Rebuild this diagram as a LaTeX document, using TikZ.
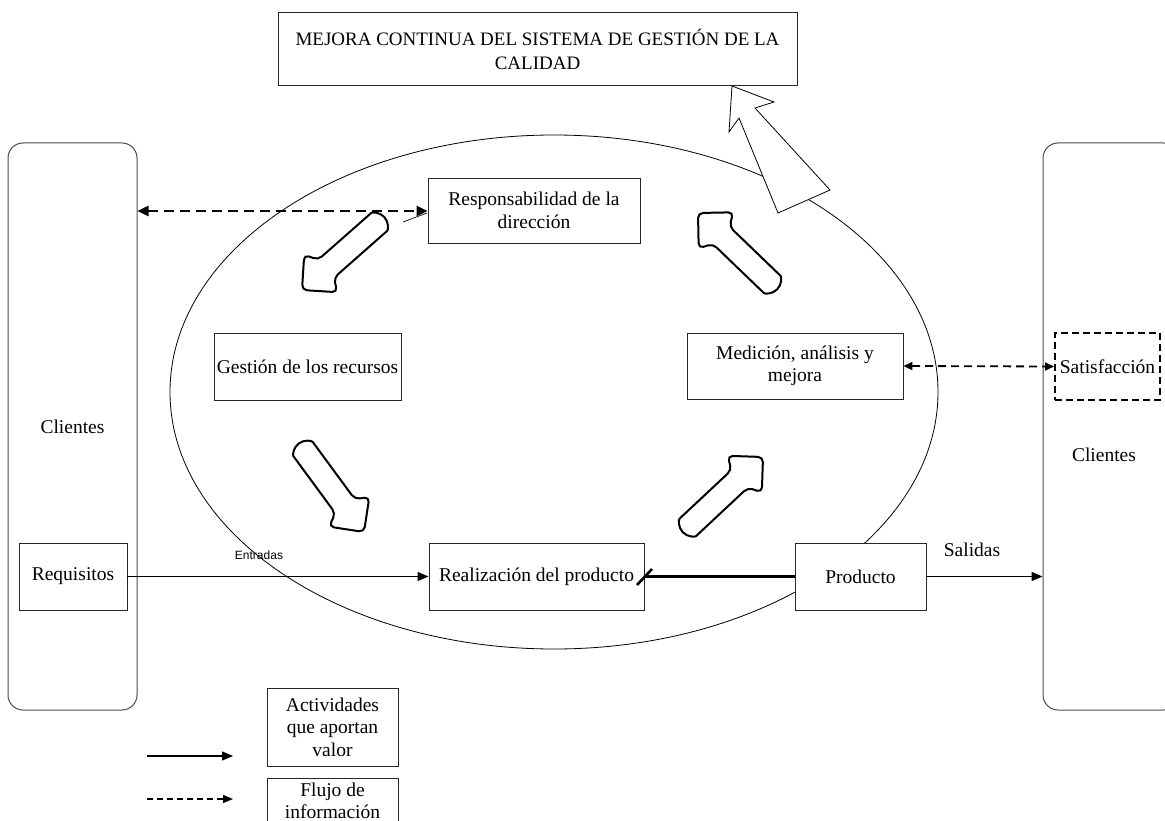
\documentclass[tikz,border=0pt]{standalone}
\usepackage{fontspec}
\setmainfont{Liberation Serif}
\newfontfamily\labelsans{Liberation Sans}
\usetikzlibrary{arrows.meta}

\begin{document}
\begin{tikzpicture}[x=1pt,y=-1pt,
  font=\fontsize{19.5}{22.5}\selectfont,
  box/.style={draw=black!85, fill=white, line width=0.9pt, inner sep=0pt, align=center},
  dashbox/.style={draw=black, fill=white, line width=2pt, dash pattern=on 7pt off 4pt, inner sep=0pt, align=center},
  clientbox/.style={draw=black!70, line width=1pt, rounded corners=15pt, inner sep=0pt},
  flow/.style={line width=1.3pt, -{Triangle[length=11pt,width=9pt]}},
  info/.style={line width=2.4pt, dash pattern=on 10pt off 6pt, {Triangle[length=11pt,width=10pt]}-{Triangle[length=11pt,width=10pt]}},
  infothin/.style={line width=1.8pt, dash pattern=on 8pt off 5pt, {Triangle[length=9pt,width=8pt]}-{Triangle[length=9pt,width=8pt]}},
  blockarrow/.pic={
    \draw[line width=2pt, rounded corners=5pt, fill=white]
      (0,0) -- (25,-25) -- (32,-12) -- (98,-12)
      arc[start angle=-90, end angle=90, radius=12]
      -- (32,12) -- (25,25) -- cycle;
  }
]
\useasboundingbox (0,0) rectangle (1165,821);
\clip (0,0) rectangle (1165,821);

% customers on both sides
\node[clientbox, minimum width=129, minimum height=567] (cliL) at (72.5,426.5) {Clientes};
\node[clientbox, minimum width=135, minimum height=567] (cliR) at (1110.5,426.5) {};
\node (cliRtext) at (1104,455) {Clientes};

% main process ellipse
\draw[line width=0.8pt] (554,392) ellipse[x radius=384, y radius=257];

% continual improvement box and its arrow
\node[box, minimum width=519, minimum height=73, font=\fontsize{19}{24}\selectfont] (mejora) at (537.5,49)
  {MEJORA CONTINUA DEL SISTEMA DE GESTIÓN DE LA\\CALIDAD};
\coordinate (tip) at (732,86);
\draw[line width=0.8pt, fill=white] (tip) -- (774,102) -- (755,108) -- (830,190)
  -- (778,213) -- (739,118) -- (729,132) -- cycle;

% process boxes
\node[box, minimum width=212, minimum height=65] (resp) at (534,210.5) {Responsabilidad de la\\dirección};
\node[box, minimum width=187, minimum height=67] (gest) at (307.5,366.5) {Gestión de los recursos};
\node[box, minimum width=216, minimum height=66] (medic) at (795,366) {Medición, análisis y\\mejora};
\node[box, minimum width=215, minimum height=67] (real) at (536.5,576.5) {Realización del producto};
\node[box, minimum width=131, minimum height=67] (prod) at (860.5,576.5) {Producto};
\node[box, minimum width=108, minimum height=67] (req) at (73,576.5) {Requisitos};
\node[dashbox, minimum width=105, minimum height=67] (satis) at (1107.5,366.5) {Satisfacción};

% cycle of block arrows
\pic[rotate=41.4] at (302,290) {blockarrow};
\pic[rotate=126.3] at (364,532) {blockarrow};
\pic[rotate=223.1] at (763,457) {blockarrow};
\pic[rotate=-43.9] at (698,213) {blockarrow};

% information flows
\draw[info] (cliL.east |- 0,211) -- (resp.west |- 0,211);
\draw[line width=0.7pt] (403,222) -- (427,213);
\draw[infothin] (medic.east) -- (satis.west);

% value-adding flows
\draw[flow] (req.east) -- (real.west);
\node[font=\labelsans\fontsize{12}{14}\selectfont] (entr) at (259,555) {Entradas};
\draw[line width=2.6pt] (prod.west) -- (real.east);
\draw[line width=2.6pt] (637,585) -- (652,569);
\draw[flow] (prod.east) -- (cliR.west |- prod.east);
\node (sal) at (972,550) {Salidas};

% legend
\node[box, minimum width=131, minimum height=78] (leg1) at (332.5,727) {Actividades\\que aportan\\valor};
\node[box, minimum width=131, minimum height=46] (leg2) at (332.5,801) {Flujo de\\información};
\coordinate (l1a) at (147,756);
\coordinate (l1b) at (233,756);
\coordinate (l2a) at (147,799);
\coordinate (l2b) at (233,799);
\draw[flow] (l1a) -- (l1b);
\draw[line width=1.3pt, dash pattern=on 6pt off 4pt, -{Triangle[length=10pt,width=8pt]}] (l2a) -- (l2b);
\end{tikzpicture}
\end{document}
